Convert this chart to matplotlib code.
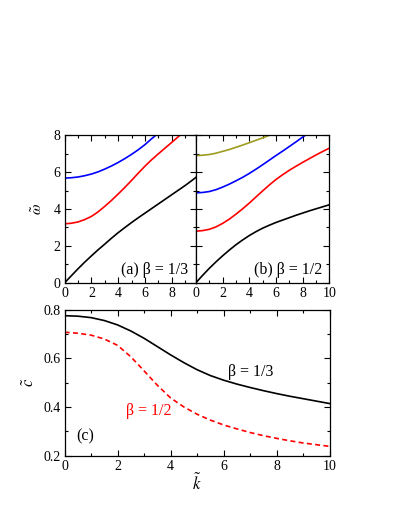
import numpy as np
import matplotlib
matplotlib.use("Agg")
import matplotlib.pyplot as plt
from matplotlib.ticker import MultipleLocator

plt.rcParams['font.family'] = ['Liberation Serif', 'DejaVu Serif']
plt.rcParams['mathtext.fontset'] = 'stix'
plt.rcParams['font.size'] = 10

# panel (a): beta = 1/3, dispersion branches
a_black_k = [0, 0.5, 1, 1.5, 2, 2.5, 3, 3.5, 4, 4.5, 5, 5.5, 6, 6.5, 7, 7.5, 8, 8.5, 9, 9.5, 9.8]
a_black = [0.0, 0.38, 0.76, 1.12, 1.46, 1.79, 2.1, 2.42, 2.72, 3.0, 3.27, 3.53,
           3.78, 4.03, 4.28, 4.53, 4.78, 5.03, 5.28, 5.55, 5.72]
a_red_k = [0, 0.5, 1, 1.5, 2, 2.5, 3, 3.5, 4, 4.5, 5, 5.5, 6, 6.5, 7, 7.5, 8, 8.6]
a_red = [3.2, 3.23, 3.3, 3.43, 3.6, 3.85, 4.15, 4.47, 4.82, 5.18, 5.56, 5.95,
         6.33, 6.68, 7.0, 7.31, 7.62, 8.0]
a_blue_k = [0, 0.5, 1, 1.5, 2, 2.5, 3, 3.5, 4, 4.5, 5, 5.5, 6, 6.5, 6.8]
a_blue = [5.68, 5.7, 5.74, 5.81, 5.9, 6.02, 6.17, 6.34, 6.53, 6.74, 6.97, 7.22,
          7.5, 7.82, 8.0]

# panel (b): beta = 1/2
b_k = [0, 0.5, 1, 1.5, 2, 2.5, 3, 3.5, 4, 4.5, 5, 5.5, 6, 6.5, 7, 7.5, 8, 8.5, 9, 9.5, 10]
b_black = [0.0, 0.4, 0.78, 1.13, 1.46, 1.77, 2.06, 2.32, 2.56, 2.77, 2.96, 3.12,
           3.27, 3.4, 3.53, 3.66, 3.78, 3.9, 4.01, 4.12, 4.23]
b_red = [2.8, 2.83, 2.9, 3.03, 3.22, 3.45, 3.72, 4.01, 4.32, 4.65, 4.98, 5.3,
         5.6, 5.86, 6.1, 6.32, 6.53, 6.73, 6.93, 7.12, 7.3]
b_blue_k = [0, 0.5, 1, 1.5, 2, 2.5, 3, 3.5, 4, 4.5, 5, 5.5, 6, 6.5, 7, 7.5, 8, 8.2]
b_blue = [4.88, 4.9, 4.95, 5.05, 5.19, 5.35, 5.53, 5.72, 5.93, 6.16, 6.4, 6.65,
          6.9, 7.14, 7.39, 7.64, 7.9, 8.0]
b_olive_k = [0, 0.5, 1, 1.5, 2, 2.5, 3, 3.5, 4, 4.5, 5, 5.5]
b_olive = [6.9, 6.92, 6.96, 7.03, 7.13, 7.23, 7.35, 7.47, 7.6, 7.73, 7.86, 8.0]

# panel (c): phase velocity
c_k = [0, 0.5, 1, 1.5, 2, 2.5, 3, 3.5, 4, 4.5, 5, 5.5, 6, 6.5, 7, 7.5, 8, 8.5, 9, 9.5, 10]
c_third = [0.775, 0.773, 0.767, 0.755, 0.737, 0.712, 0.682, 0.648, 0.614, 0.582,
           0.553, 0.529, 0.51, 0.494, 0.48, 0.467, 0.455, 0.444, 0.434, 0.424, 0.414]
c_half = [0.707, 0.703, 0.695, 0.679, 0.653, 0.606, 0.548, 0.489, 0.437, 0.4,
          0.37, 0.346, 0.326, 0.31, 0.295, 0.282, 0.271, 0.261, 0.252, 0.245, 0.238]

fig = plt.figure(figsize=(3.99, 5.16), dpi=100)
ax_a = fig.add_axes([0.162, 0.452, 0.329, 0.2857])
ax_b = fig.add_axes([0.491, 0.452, 0.334, 0.2857])
ax_c = fig.add_axes([0.162, 0.117, 0.664, 0.283])

lw = 1.2
label_fs = 11.5


def style(ax):
    ax.tick_params(which='both', direction='in', top=True, right=True)
    ax.tick_params(which='major', length=4, width=0.8, pad=3)
    ax.tick_params(which='minor', length=2.5, width=0.8)
    for s in ax.spines.values():
        s.set_linewidth(0.9)


ax_a.plot(a_black_k, a_black, color='black', lw=lw)
ax_a.plot(a_red_k, a_red, color='red', lw=lw)
ax_a.plot(a_blue_k, a_blue, color='blue', lw=lw)
ax_a.set_xlim(0, 9.8)
ax_a.set_ylim(0, 8)
ax_a.set_xticks([0, 2, 4, 6, 8])
ax_a.xaxis.set_minor_locator(MultipleLocator(1))
ax_a.yaxis.set_major_locator(MultipleLocator(2))
ax_a.yaxis.set_minor_locator(MultipleLocator(1))
ax_a.set_ylabel(r'$\tilde{\omega}$', fontsize=11, labelpad=6)
ax_a.text(9.25, 0.69, '(a) β = 1/3', ha='right', va='center', fontsize=label_fs)
style(ax_a)

ax_b.plot(b_k, b_black, color='black', lw=lw)
ax_b.plot(b_k, b_red, color='red', lw=lw)
ax_b.plot(b_blue_k, b_blue, color='blue', lw=lw)
ax_b.plot(b_olive_k, b_olive, color='#9c9c1e', lw=lw)
ax_b.set_xlim(0, 10)
ax_b.set_ylim(0, 8)
ax_b.xaxis.set_major_locator(MultipleLocator(2))
ax_b.xaxis.set_minor_locator(MultipleLocator(1))
ax_b.yaxis.set_major_locator(MultipleLocator(2))
ax_b.yaxis.set_minor_locator(MultipleLocator(1))
ax_b.set_yticklabels([])
ax_b.text(9.45, 0.69, '(b) β = 1/2', ha='right', va='center', fontsize=label_fs)
style(ax_b)

ax_c.plot(c_k, c_third, color='black', lw=lw)
ax_c.plot(c_k, c_half, color='red', lw=lw, ls=(0, (3, 2)))
ax_c.set_xlim(0, 10)
ax_c.set_ylim(0.2, 0.8)
ax_c.xaxis.set_major_locator(MultipleLocator(2))
ax_c.xaxis.set_minor_locator(MultipleLocator(1))
ax_c.yaxis.set_major_locator(MultipleLocator(0.2))
ax_c.yaxis.set_minor_locator(MultipleLocator(0.1))
ax_c.set_ylabel(r'$\tilde{c}$', fontsize=12, labelpad=4)
ax_c.set_xlabel(r'$\tilde{k}$', fontsize=12, labelpad=0)
ax_c.text(6.17, 0.545, 'β = 1/3', ha='left', va='center', fontsize=label_fs)
ax_c.text(2.33, 0.383, 'β = 1/2', ha='left', va='center', color='red', fontsize=label_fs)
ax_c.text(0.44, 0.279, '(c)', ha='left', va='center', fontsize=label_fs)
style(ax_c)

fig.savefig('out.png', dpi=100)
